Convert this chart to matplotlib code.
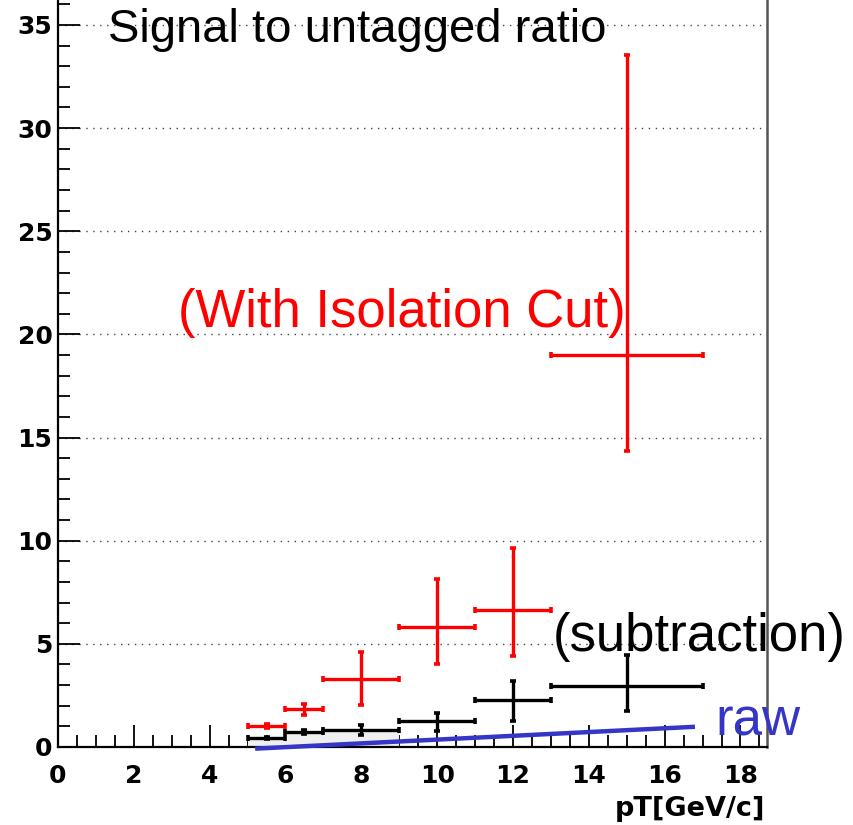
import numpy as np
import matplotlib
matplotlib.use('Agg')
import matplotlib.pyplot as plt
from matplotlib.ticker import MultipleLocator

# datos leidos de la figura
# con corte de aislamiento (rojo)
iso_x = np.array([5.5, 6.5, 8.0, 10.0, 12.0, 15.0])
iso_xerr = np.array([0.5, 0.5, 1.0, 1.0, 1.0, 2.0])
iso_y = np.array([1.03, 1.83, 3.28, 5.80, 6.63, 19.0])
iso_yerr_lo = np.array([0.1, 0.28, 1.26, 1.78, 2.22, 4.65])
iso_yerr_hi = np.array([0.1, 0.27, 1.31, 2.33, 3.0, 14.55])

# sustraccion (negro)
sub_x = np.array([5.5, 6.5, 8.0, 10.0, 12.0, 15.0])
sub_xerr = np.array([0.5, 0.5, 1.0, 1.0, 1.0, 2.0])
sub_y = np.array([0.44, 0.73, 0.81, 1.26, 2.26, 2.97])
sub_yerr_lo = np.array([0.05, 0.08, 0.23, 0.47, 1.01, 1.23])
sub_yerr_hi = np.array([0.05, 0.08, 0.26, 0.40, 0.95, 1.49])

# raw (linea azul)
raw_x = [5.2, 16.8]
raw_y = [-0.08, 0.98]

fig = plt.figure(figsize=(8.54, 8.25), dpi=100)
ax = fig.add_axes([58/854, 78/825, (767-58)/854, 747/825])

# relleno gris claro del histograma
ax.bar(sub_x[:3], sub_y[:3], width=2*sub_xerr[:3], color='#efefef', zorder=1)

ax.errorbar(iso_x, iso_y, xerr=iso_xerr, yerr=[iso_yerr_lo, iso_yerr_hi],
            fmt='none', ecolor='#ff0000', elinewidth=2.4, capsize=2, capthick=2.6, zorder=4)
ax.errorbar(sub_x, sub_y, xerr=sub_xerr, yerr=[sub_yerr_lo, sub_yerr_hi],
            fmt='none', ecolor='black', elinewidth=2.4, capsize=2, capthick=2.6, zorder=4)
ax.plot(raw_x, raw_y, color='#3535c8', lw=3.2, clip_on=False, zorder=5, solid_capstyle='butt')

ax.set_xlim(0, 18.7)
ax.set_ylim(0, 747/20.63)

ax.xaxis.set_major_locator(MultipleLocator(2))
ax.xaxis.set_minor_locator(MultipleLocator(0.5))
ax.yaxis.set_major_locator(MultipleLocator(5))
ax.yaxis.set_minor_locator(MultipleLocator(1))
ax.tick_params(which='major', direction='in', length=16, width=1.3, labelsize=18, pad=12)
ax.tick_params(axis='y', which='major', direction='in', length=16, width=1.3, pad=4)
ax.tick_params(which='minor', direction='in', length=8.5, width=1.3)
ax.tick_params(top=False, right=False, which='both')
for lab in ax.get_xticklabels() + ax.get_yticklabels():
    lab.set_fontweight('heavy')
    lab.set_family('DejaVu Sans')

ax.yaxis.grid(True, which='major', linestyle=(0, (1, 4)), color='#444444', lw=1.0)
ax.set_axisbelow(True)

ax.spines['top'].set_visible(False)
ax.spines['left'].set_linewidth(1.6)
ax.spines['bottom'].set_linewidth(1.6)
ax.spines['right'].set_linewidth(1.8)
ax.spines['right'].set_color('#555555')

fuente = ['Liberation Sans', 'DejaVu Sans']
fig.text(108/854, 1-42/825, 'Signal to untagged ratio', fontsize=34, family=fuente, va='baseline', zorder=6)
fig.text(178/854, 1-327/825, '(With Isolation Cut)', fontsize=38, family=fuente, color='#ff0000', va='baseline', zorder=6)
fig.text(553/854, 1-651/825, '(subtraction)', fontsize=38, family=fuente, va='baseline', zorder=6)
fig.text(715/854, 1-735/825, 'raw', fontsize=38, family=fuente, color='#3535c8', va='baseline', zorder=6)
fig.text(765/854, 1-816/825, 'pT[GeV/c]', fontsize=19.5, fontweight='heavy', family='DejaVu Sans', ha='right', va='baseline')

plt.savefig('out.png', dpi=100)
